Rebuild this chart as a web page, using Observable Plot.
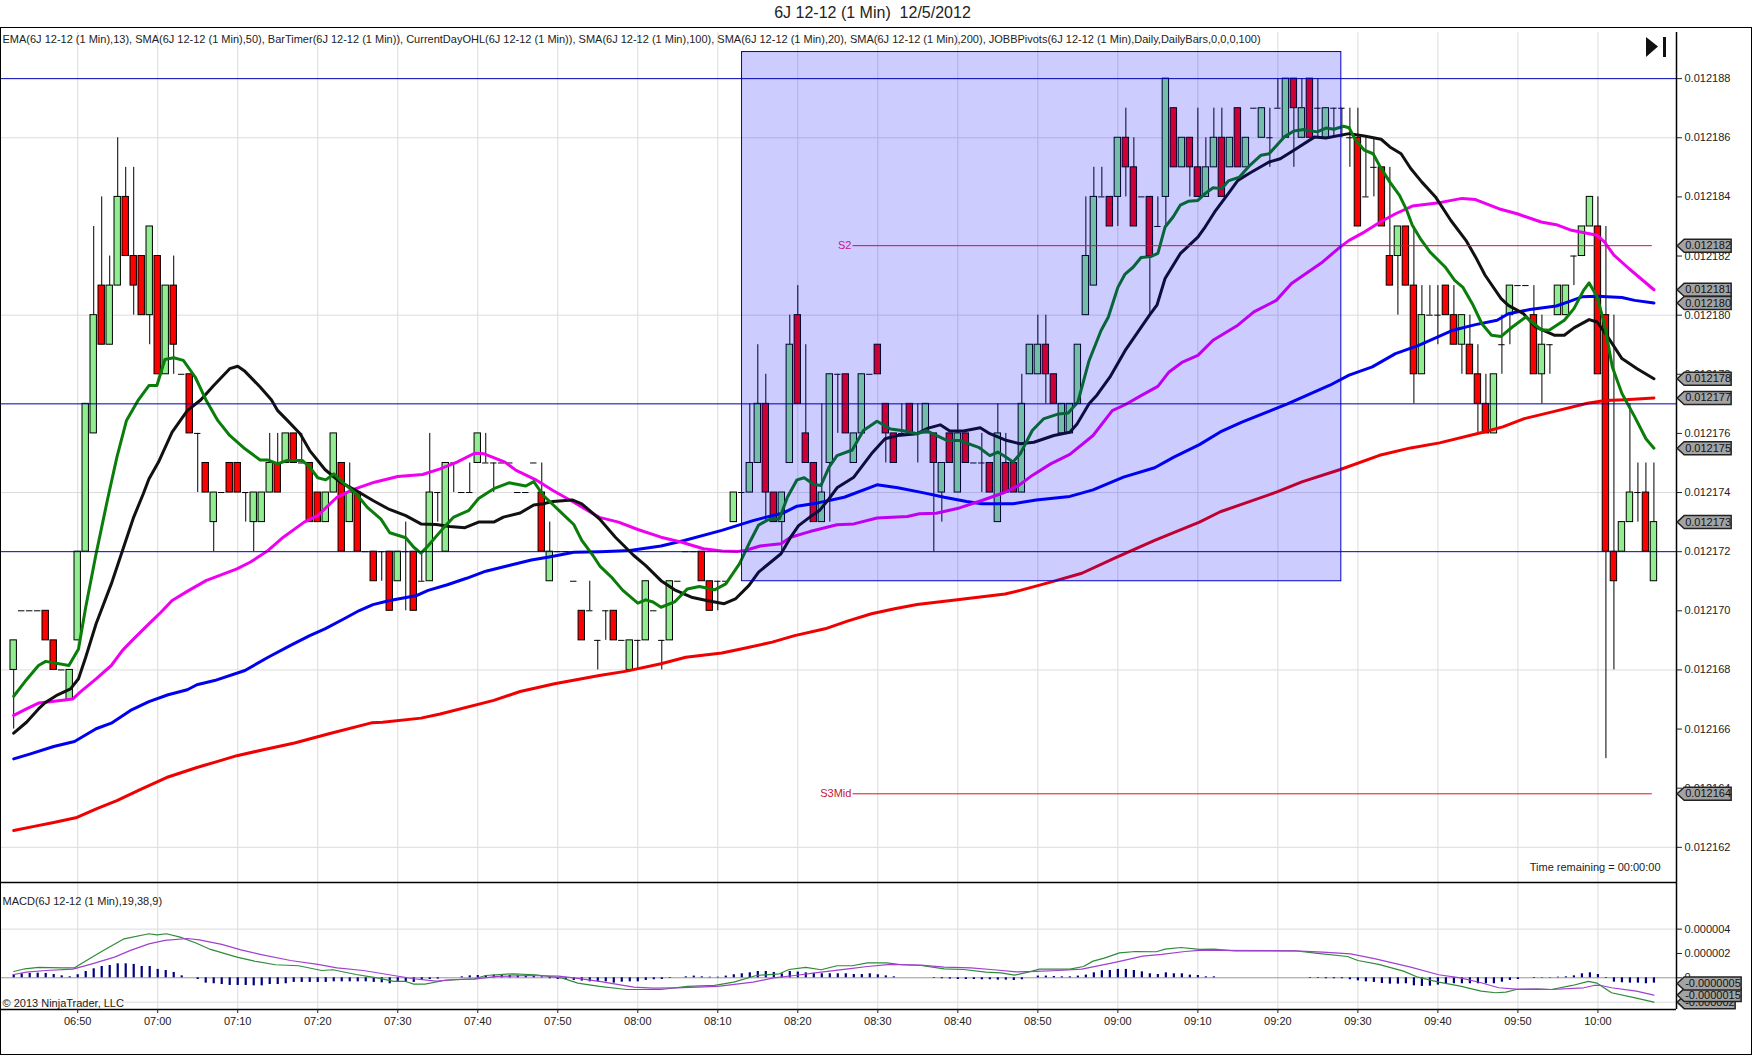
<!DOCTYPE html>
<html><head><meta charset="utf-8">
<script src="https://cdn.jsdelivr.net/npm/d3@7"></script>
<script src="https://cdn.jsdelivr.net/npm/@observablehq/plot@0.6"></script>
<style>
html,body{margin:0;padding:0;background:#fff;overflow:hidden}
#wrap{position:relative;width:1752px;height:1055px;font-family:"Liberation Sans",Arial,sans-serif}
#title{position:absolute;left:0;width:1745px;top:4px;text-align:center;font-size:16px;color:#222;white-space:pre}
#frame{position:absolute;left:0;top:27px;width:1749.5px;height:1026px;border:1.5px solid #000;pointer-events:none}
#p1,#p2{position:absolute;left:0}
#p1{top:27px}#p2{top:882px}
svg{display:block;overflow:visible}
</style></head><body>
<div id="wrap"><div id="title">6J 12-12 (1 Min)  12/5/2012</div><div id="frame"></div><div id="p1"></div><div id="p2"></div>
<svg style="position:absolute;left:1646px;top:36px" width="22" height="24"><path d="M0 1L12 10.5L0 21Z" fill="#111"/><rect x="17" y="1" width="3" height="20" fill="#111"/></svg>
</div>
<script>
// Prices are in units of 0.000001 above 0.012100 (86 = 0.012186). Bar 0 = 06:42, one bar per minute.
const open=[68,70,70,70,70,69,68,67,69,72,76,81,79,81,84,82,82,80,82,78,81,78,78,76,75,73,74,75,75,74,73,73,74,75,75,76,75,75,74,73,74,75,73,74,72,72,72,72,71,72,72,71,71,74,72,75,74,74,75,75,75,75,75,74,74,75,74,71,72,72,71,70,70,69,70,70,69,68,69,69,70,69,69,71,72,72,72,71,71,71,73,74,74,75,77,74,73,75,80,76,75,73,75,78,78,75,76,78,79,77,76,76,77,76,76,76,74,76,74,76,75,75,75,73,75,75,74,78,78,79,78,76,76,77,80,81,84,84,84,86,85,84,84,83,84,87,85,86,85,84,85,86,85,87,85,87,86,86,87,86,88,86,88,87,86,87,87,86,86,84,85,85,82,82,83,81,78,80,80,81,80,79,79,78,77,76,79,80,81,81,80,78,79,80,80,82,82,83,83,80,72,72,73,74,74,71];
const high=[69,70,70,70,70,69,68,68,72,77,83,84,82,86,85,85,82,83,82,81,82,78,78,76,75,74,74,75,75,74,74,74,76,76,76,76,76,75,74,74,76,75,75,74,72,72,72,72,72,73,72,72,76,74,75,75,74,75,76,76,75,75,75,74,74,75,75,73,72,72,71,70,71,69,70,70,69,69,69,71,70,69,71,71,72,72,72,71,71,71,74,74,77,79,78,74,74,80,81,79,75,77,78,78,78,76,78,78,79,77,76,77,77,77,77,76,75,76,77,76,75,76,75,77,76,75,78,79,80,80,78,77,77,79,84,85,85,84,86,87,86,84,84,84,88,87,86,86,87,86,87,87,86,87,86,86,87,87,88,88,88,88,87,88,87,87,87,87,87,86,86,85,85,83,83,83,81,81,81,80,81,80,80,79,78,77,80,79,81,81,81,80,79,79,81,81,83,84,84,83,80,73,77,75,75,75,73];
const low=[66,70,70,70,69,68,68,67,69,72,76,79,79,81,82,80,80,79,78,78,78,78,76,74,74,72,74,74,74,73,72,73,74,74,75,75,75,73,73,73,74,72,73,72,72,71,71,70,71,70,70,71,71,73,72,74,74,74,75,75,74,75,75,74,74,75,72,71,72,72,71,69,70,68,69,69,69,68,68,69,70,68,69,71,72,72,71,70,70,71,73,74,74,75,73,73,72,75,77,75,73,73,73,76,76,75,76,78,78,75,75,76,76,75,76,72,73,75,74,75,75,74,74,73,74,74,74,78,78,77,77,76,76,77,80,81,84,83,83,84,83,84,80,83,83,85,85,84,84,84,85,84,85,85,85,86,86,85,87,86,85,86,86,86,86,86,86,85,83,84,84,83,81,80,81,77,78,80,79,80,79,78,78,76,76,76,78,80,81,81,78,77,78,79,80,82,82,83,78,65,68,72,73,73,72,71];
const close=[69,70,70,70,69,68,68,68,72,77,80,79,81,84,82,81,80,83,78,81,79,78,76,76,74,74,74,74,74,74,74,74,75,74,76,75,75,73,73,74,76,72,74,72,72,71,72,70,72,72,70,71,74,74,75,75,74,74,76,75,75,75,75,74,74,75,72,72,72,72,71,69,70,69,70,69,69,69,69,71,70,69,71,71,72,72,71,70,71,71,74,74,75,77,74,73,74,79,77,75,73,74,78,78,76,76,78,78,78,76,75,76,76,76,77,75,75,75,76,75,75,75,74,76,74,74,77,79,79,78,77,77,77,79,82,84,84,83,86,85,83,84,82,83,88,85,86,85,84,85,86,84,86,85,86,87,87,86,87,88,87,87,86,87,87,87,87,86,83,84,85,83,81,83,81,78,80,80,80,80,79,80,78,77,76,78,79,81,81,81,78,79,79,81,81,82,83,84,78,72,71,73,74,74,72,73];

// Moving averages as [bar, price]
const ema13=[[0,67.11],[1.6,67.67],[3.1,68.15],[4,68.29],[6.9,68.15],[8.1,68.71],[9,70.12],[10.3,71.93],[11.7,73.73],[12.9,75.2],[14.1,76.44],[15.5,77.1],[16.9,77.62],[17.9,77.62],[18.9,78.5],[20,78.56],[21.2,78.47],[22.7,77.9],[24,77.15],[25.5,76.44],[27,75.93],[28.9,75.48],[30.8,75.1],[31.8,75.1],[33,74.97],[34.1,75.08],[36.1,75.08],[37,74.86],[38,74.5],[39,74.43],[40,74.63],[41.3,74.3],[42.8,73.96],[44.2,73.5],[45.9,73.1],[47,72.64],[49,72.47],[50,72.15],[50.9,71.95],[51.8,72.2],[53.8,72.83],[55,73.17],[56.9,73.4],[58.1,73.8],[60,74.13],[61.9,74.33],[64,74.22],[65,74.37],[66.2,73.9],[68.6,73.28],[70,72.92],[71,72.38],[72.4,71.87],[73.3,71.5],[74.7,71.14],[76.1,70.7],[78,70.26],[79,70.37],[79.9,70.3],[80.9,70.12],[82.6,70.3],[84.2,70.74],[85.7,70.82],[87.6,70.71],[89,70.91],[90.7,71.59],[92.1,72.38],[93.1,72.9],[94.3,73.08],[95.7,73.11],[96.7,73.84],[97.9,74.43],[98.8,74.5],[100,74.27],[100.9,74.24],[101.9,74.86],[102.9,75.25],[104.8,75.44],[106.2,76.1],[107.9,76.41],[109.6,76.15],[111,76.1],[112.9,75.99],[114.1,76.1],[115.3,75.93],[116.7,75.76],[118.2,75.76],[120.6,75.53],[122,75.25],[123,75.37],[123.9,75.22],[124.9,75.03],[125.8,75.31],[127.3,76.1],[128.7,76.49],[130.6,76.66],[131.8,76.69],[133,77.06],[134.4,78.46],[135.9,79.48],[136.8,79.93],[138,80.94],[138.9,81.39],[139.9,81.62],[140.9,81.95],[142.1,81.98],[143,82.09],[143.9,82.98],[144.9,83.32],[145.8,83.72],[146.8,83.85],[148,83.88],[148.9,84.11],[149.9,84.31],[151,84.28],[151.8,84.54],[153.2,84.67],[154.5,85.07],[155.9,85.41],[156.9,85.46],[158.8,86.03],[160,86.23],[161.2,86.28],[162.9,86.2],[164,86.33],[165,86.29],[166.2,86.39],[166.9,86.34],[167.6,85.97],[168.8,85.58],[169.9,85.46],[170.8,85.01],[172,84.5],[173.2,84.05],[174.1,83.55],[174.8,83.04],[175.8,82.59],[177,82.14],[178.9,81.63],[180.1,81.18],[181.1,80.95],[182.3,80.39],[183.5,79.71],[184.7,79.32],[185.9,79.28],[187.3,79.6],[189,79.94],[190,79.71],[190.9,79.51],[191.9,79.49],[193.8,79.83],[195,80.22],[196.2,80.84],[196.9,81.09],[197.9,80.62],[198.8,79.71],[199.8,78.25],[201,77.35],[202.6,76.56],[204,75.82],[205,75.5]];
const sma20=[[0,65.86],[1.6,66.23],[3.1,66.68],[4,66.91],[5.5,67.16],[7.1,67.36],[8.1,67.7],[9,68.43],[10.3,69.56],[12.2,70.91],[13.6,72.04],[15,73.17],[16.2,73.96],[16.9,74.46],[18.1,75.03],[19.8,76.04],[21.7,76.77],[23.4,77.14],[25,77.62],[27,78.19],[28,78.27],[28.9,78.1],[30.8,77.57],[32.2,77.14],[33,76.77],[34.2,76.44],[35.8,75.99],[37,75.42],[38.9,74.78],[40.8,74.35],[42.8,74.07],[44.9,73.73],[46.8,73.45],[49,73.22],[50.9,72.94],[52.8,72.92],[54.5,72.85],[56.4,72.81],[58.1,73],[60,73],[61.2,73.17],[63.3,73.31],[65,73.58],[66.2,73.62],[67.4,73.7],[69.8,73.75],[71,73.62],[73.2,73.11],[75.2,72.49],[77.5,71.87],[79,71.53],[80.9,71.02],[82.6,70.71],[84.7,70.46],[86.6,70.35],[88.8,70.24],[90.2,70.4],[91.9,70.86],[93.1,71.31],[95.9,71.93],[97.1,72.49],[98.1,72.88],[99.5,73.17],[100.7,73.39],[101.9,73.79],[102.9,74.16],[105,74.52],[107.2,75.31],[108.9,75.82],[110.5,75.93],[112.9,75.99],[114.3,76.18],[115.8,76.29],[117,76.08],[118.7,76.08],[120.8,76.19],[122,75.99],[123.9,75.78],[125.8,75.65],[127.5,75.7],[130,75.93],[132,76.04],[132.9,76.32],[134.4,77],[135.4,77.3],[137,77.9],[138.9,78.8],[140.9,79.59],[142,80.02],[142.9,80.35],[143.9,81.24],[145.8,82.08],[148,82.64],[148.9,82.98],[150.1,83.49],[151.8,84.11],[153,84.56],[154.5,84.81],[156.9,85.18],[158.3,85.29],[160,85.58],[162.6,86.03],[164,85.99],[166.9,86.14],[168.8,86.06],[170.9,85.95],[172,85.69],[173.4,85.46],[174.6,84.96],[176,84.5],[177.7,84],[179.6,83.21],[181.5,82.53],[182.7,81.97],[183.9,81.35],[185.9,80.56],[186.8,80.33],[188.7,80.05],[190.2,79.6],[192.6,79.32],[193.8,79.32],[195,79.57],[196.9,79.85],[197.9,79.77],[199.1,79.32],[201,78.53],[202.9,78.19],[205,77.85]];
const sma50=[[0,66.46],[1.6,66.68],[3.1,66.88],[4,66.91],[7.4,67.02],[8.3,67.25],[10.3,67.7],[12.2,68.15],[13.6,68.66],[15,69.05],[16.9,69.56],[18.4,69.95],[19.8,70.35],[21.9,70.69],[24.1,71.03],[27.9,71.42],[29.6,71.65],[31.8,72.04],[33.7,72.49],[36.3,73],[38,73.22],[40.4,73.84],[42.3,74.09],[45.1,74.35],[48,74.54],[51.1,74.61],[53.3,74.8],[55.4,75.03],[57.6,75.33],[58.8,75.31],[61.4,75.03],[62.8,74.75],[65.2,74.44],[67.4,74.07],[70,73.67],[73.2,73.16],[75.6,73],[78,72.75],[80.9,72.49],[83.5,72.32],[86.2,72.1],[88.5,72.02],[90.5,72.01],[91.4,72.04],[93.3,72.19],[95.9,72.27],[97.1,72.49],[99.5,72.68],[102.9,72.91],[105,72.94],[107.9,73.14],[111.7,73.19],[113.2,73.28],[115.3,73.3],[118.2,73.48],[121,73.73],[123.9,74.01],[125.6,74.24],[127.3,74.58],[129.6,74.97],[132,75.29],[134.9,75.93],[137.3,76.77],[138.9,76.97],[140.9,77.28],[143,77.59],[144.4,78.08],[146,78.4],[148,78.64],[149.9,79.15],[151.6,79.43],[153,79.66],[155,80.11],[157.8,80.5],[159.7,81.07],[161.2,81.35],[163.6,81.8],[165.8,82.31],[166.9,82.53],[168.8,82.81],[170.8,83.15],[172.7,83.43],[174.8,83.69],[177.9,83.79],[181,83.95],[182.7,83.91],[185.6,83.6],[187.9,83.43],[190.9,83.15],[192.8,83.06],[194.7,82.87],[197.9,82.7],[198.8,82.48],[200,82.03],[201.9,81.57],[205,80.86]];
const sma100=[[0,64.99],[2.1,65.16],[5,65.41],[7.6,65.58],[10.3,66.01],[12.2,66.2],[14.6,66.63],[16.9,66.93],[19.3,67.16],[21.7,67.33],[22.9,67.5],[25.1,67.64],[28.9,67.98],[31.8,68.43],[34.6,68.83],[37,69.16],[38.9,69.39],[41.3,69.73],[43.2,70.01],[44.9,70.21],[47,70.35],[50.4,70.52],[51.8,70.69],[54.2,70.88],[56.6,71.1],[59,71.34],[61.9,71.53],[64.7,71.72],[67.1,71.83],[70,71.98],[73.3,72],[77,72.04],[80.9,72.19],[83.8,72.38],[88.5,72.72],[92.4,73.05],[94.8,73.22],[96.2,73.31],[97.9,73.54],[100.5,73.65],[103.8,73.84],[107.9,74.26],[110.5,74.16],[113.9,73.98],[116.3,73.84],[119.1,73.7],[121,73.62],[124.9,73.62],[127.8,73.75],[132,73.87],[134.9,74.09],[138.7,74.52],[142.6,74.84],[145,75.2],[148.2,75.62],[150.8,76.05],[153.5,76.38],[159.2,77],[164.5,77.63],[166.9,77.97],[169.8,78.25],[172.7,78.7],[175.6,78.98],[179.9,79.49],[182.7,79.68],[185.4,79.83],[186.8,80.05],[189.5,80.19],[192.8,80.31],[194.3,80.45],[196,80.62],[197.9,80.64],[201,80.6],[202.6,80.5],[205,80.41]];
const sma200=[[0,62.57],[2.4,62.7],[5,62.84],[7.9,63.01],[10.4,63.31],[12.9,63.58],[15.8,63.95],[19.1,64.36],[22.9,64.7],[25.4,64.9],[27.9,65.1],[31.2,65.3],[35.1,65.53],[39.4,65.84],[44.7,66.21],[46.1,66.23],[50.9,66.37],[53.3,66.51],[60,66.97],[63.3,67.27],[67.6,67.53],[73.2,67.81],[76.6,67.96],[80.9,68.21],[84,68.43],[88.5,68.57],[90.9,68.71],[94.8,68.94],[97.6,69.16],[101.4,69.39],[104.2,69.65],[107.2,69.9],[110.1,70.07],[112.9,70.21],[118.2,70.38],[123.9,70.57],[125.8,70.69],[129.6,70.97],[133.5,71.27],[137.8,71.81],[142.6,72.38],[148.2,73],[150.8,73.35],[157.9,74.02],[161,74.36],[165.8,74.78],[170.7,75.26],[174.6,75.51],[178.2,75.68],[183.5,76.03],[186.1,76.22],[188.8,76.5],[192.3,76.73],[196.7,77.02],[198.9,77.11],[201.4,77.14],[205,77.2]];

// MACD lines in units of 0.000001 as [bar, value]; histogram in units of 0.0000001, one per bar
const macdLine=[[0,.52],[1.4,.74],[3.1,.85],[6,.82],[7.6,.82],[9.1,1.42],[11.2,2.25],[13.8,3.2],[16.9,3.62],[17.9,3.53],[19.1,3.62],[20.8,3.34],[22.7,2.88],[24.6,2.33],[27.9,1.7],[30.1,1.37],[32.7,1.07],[35.6,.99],[38.5,.6],[39.9,.66],[42.8,.27],[45.6,-.03],[47.5,-.3],[49,-.3],[50,-.52],[51.4,-.52],[53.8,-.22],[57.6,-.08],[59,.19],[62.4,.33],[65.2,.25],[68.6,-.03],[70.5,-.44],[73.2,-.71],[76.6,-.96],[80.9,-.96],[84.2,-.71],[87.6,-.63],[90,-.36],[92.8,.19],[95.7,.33],[96.9,.68],[99,.85],[100.9,.66],[102.9,.99],[104.8,.99],[106.7,1.23],[109.1,1.23],[111,1.07],[113.4,1.01],[116.3,.74],[118.7,.68],[121.5,.47],[123.4,.41],[125.1,.22],[126.8,.47],[128.2,.71],[132,.71],[133.7,.93],[134.9,1.37],[136.3,1.62],[138.2,2.05],[140.2,2.16],[142.8,2.14],[143.9,2.36],[145.9,2.49],[148.2,2.33],[150,2.36],[152.6,2.22],[160.1,2.22],[162.7,2.03],[166.7,1.75],[168,1.42],[170.6,1.1],[173.7,.55],[175.5,.05],[178.1,-.36],[180.8,-.68],[183.4,-1.1],[185.2,-1.23],[186.5,-1.18],[187.8,-.96],[190.4,-.93],[192.2,-.96],[194.8,-.63],[196.8,-.3],[197.9,-.44],[199.7,-1.23],[202.8,-1.67],[205,-2]];
const signalLine=[[0,.27],[1.6,.47],[4,.6],[7.4,.71],[9.8,1.15],[12.6,1.7],[14.6,2.25],[16.9,2.79],[18.9,3.07],[21.7,3.23],[23.2,3.12],[26,2.74],[28.4,2.3],[30.8,1.92],[34.6,1.42],[38,1.1],[40.4,.82],[43.7,.6],[47.5,.19],[50,-.08],[52.8,-.27],[55.2,-.14],[57.6,-.11],[60.4,.11],[64.3,.19],[68.1,.14],[70.5,-.05],[73.2,-.3],[77.5,-.77],[79.9,-.85],[82.8,-.82],[88,-.71],[92.4,-.36],[95,0],[97.6,.19],[100.9,.47],[104.3,.74],[106.7,.93],[109.6,1.1],[113.4,1.04],[116.3,.88],[119.6,.82],[122.5,.66],[125.3,.49],[127.8,.52],[130.6,.6],[133.5,.71],[137.8,1.29],[141.1,1.78],[143.5,1.92],[146.4,2.16],[148.2,2.25],[150,2.25],[160.1,2.22],[163.6,2.11],[167.1,1.97],[170.2,1.56],[174.6,.88],[178.1,.25],[180.8,0],[183.4,-.41],[185.6,-.82],[187.8,-.93],[190.4,-.93],[192.2,-.96],[196.2,-.82],[197.5,-.63],[198.4,-.63],[199.7,-.82],[202.8,-1.1],[205,-1.42]];
const macdHist=[2.5,3.3,3.6,3.8,3.6,2.7,1.6,.8,2.5,5.2,7.4,9.3,10.1,11.5,11.5,11,9.3,9.3,6.9,6,4.4,1.6,0,-1.4,-4.4,-4.9,-5.5,-6.3,-6.3,-6.3,-6.6,-6.6,-5.5,-5.5,-4.9,-3.8,-3.8,-3.8,-3.8,-3.8,-3.3,-3.3,-3.3,-3.3,-3.3,-3.8,-4.1,-4.9,-3.8,-3.8,-3.8,-2.2,-1.4,-1.1,0,0,.8,1.6,1.9,1.9,2.2,2.2,1.9,1.6,1.4,1.4,.8,-.8,-1.4,-1.6,-2.2,-2.7,-3.3,-3.3,-3.3,-4.4,-3.6,-3.3,-3.3,-2.2,-1.6,-1.4,-.5,0,.8,1.4,.8,.5,.5,1.4,2.5,3.3,4.1,5.2,5.2,4.4,3.3,5.2,4.7,4.1,3.6,3.3,3.3,3.3,3.3,2.7,2.7,3.3,2.5,1.6,.8,0,0,0,0,-.5,-.8,-1.1,-1.4,-1.4,-1.4,-1.6,-1.6,-1.9,-1.9,-2.2,-1.6,0,1.4,1.4,1.1,.8,.8,1.4,2.2,4.1,5.8,6,6.9,6.9,6,4.9,3.3,2.7,4.1,3.3,3.3,2.2,1.9,.8,.8,0,0,0,0,0,0,0,0,0,0,0,-.5,-.5,-.8,-.8,-.8,-1.6,-2.5,-3.3,-3.8,-4.7,-5.2,-5.2,-4.9,-6.6,-7.1,-6.9,-6,-5.2,-4.9,-4.9,-4.9,-4.9,-4.9,-4.9,-3.6,-2.2,-1.4,0,-.5,-.3,-.3,.5,.8,1.6,3.3,4.1,2.7,-.5,-3.6,-4.1,-4.4,-4.4,-4.9,-4.4];

// Levels and annotations
const dayLevels=[88,77,72];
const s2Level=82.35, s3MidLevel=63.81;
const pivotStart=506.9, pivotEnd=606.8;   // minutes of the day
const zone={start:493.03,end:567.93,top:88.9,bottom:71};
const priceTags=[["0.012182",82.35],["0.012181",80.86],["0.012180",80.41],["0.012178",77.85],["0.012177",77.2],["0.012175",75.5],["0.012173",73],["0.012164",63.81]];
const macdTags=[["-0.000002",-2,58],["-0.0000015",-1.42,64],["-0.0000005",-.47,64]];
const priceTicks=[88,86,84,82,80,78,76,74,72,70,68,66,64,62];
const priceGrid=[86,80,74,68,62];
const macdTicks=[4,2,0,-2];
const macdGrid=[4,-2];
const timeLabels=["06:50","07:00","07:10","07:20","07:30","07:40","07:50","08:00","08:10","08:20","08:30","08:40","08:50","09:00","09:10","09:20","09:30","09:40","09:50","10:00"];
const legendText="EMA(6J 12-12 (1 Min),13), SMA(6J 12-12 (1 Min),50), BarTimer(6J 12-12 (1 Min)), CurrentDayOHL(6J 12-12 (1 Min)), SMA(6J 12-12 (1 Min),100), SMA(6J 12-12 (1 Min),20), SMA(6J 12-12 (1 Min),200), JOBBPivots(6J 12-12 (1 Min),Daily,DailyBars,0,0,0,100)";

const firstBar=402;
const timeTicks=timeLabels.map(s=>{const[h,m]=s.split(":").map(Number);return h*60+m});
const bars=open.map((o,i)=>({t:firstBar+i,o,h:high[i],l:low[i],c:close[i]}));
const xDomain=[400.476,609.82];
const hw=.4;
const font="'Liberation Sans',Arial,sans-serif";
const ink="#222";
const lineOf=(arr,color,w=3)=>Plot.line(arr,{x:d=>firstBar+d[0],y:d=>d[1],stroke:color,strokeWidth:w,strokeLinejoin:"round"});
const tag=(w)=>({draw(c){c.moveTo(0,0);c.lineTo(7,-6.5);c.lineTo(w,-6.5);c.lineTo(w,6.5);c.lineTo(7,6.5);c.closePath()}});

const price=Plot.plot({
  width:1752,height:855,marginLeft:1,marginRight:76,marginTop:0,marginBottom:0,
  x:{domain:xDomain,axis:null},y:{domain:[60.81,89.73],axis:null},
  style:{fontFamily:font,fontSize:"11px",background:"transparent",color:ink},
  marks:[
    Plot.ruleX(timeTicks,{y1:89.56,y2:60.81,stroke:"#dcdcdc"}),
    Plot.ruleY(priceGrid,{stroke:"#dcdcdc"}),
    Plot.ruleX(bars,{x:"t",y1:"l",y2:"h",stroke:"#000"}),
    Plot.rect(bars.filter(b=>b.c>b.o),{x1:b=>b.t-hw,x2:b=>b.t+hw,y1:"o",y2:"c",fill:"#90ee90",stroke:"#000"}),
    Plot.rect(bars.filter(b=>b.c<b.o),{x1:b=>b.t-hw,x2:b=>b.t+hw,y1:"o",y2:"c",fill:"#ff0000",stroke:"#000"}),
    Plot.ruleY(bars.filter(b=>b.c===b.o),{x1:b=>b.t-hw,x2:b=>b.t+hw,y:"o",stroke:"#000"}),
    lineOf(sma200,"#f00000"),lineOf(sma100,"#0000f0"),lineOf(sma50,"#f000f0"),lineOf(sma20,"#111"),lineOf(ema13,"#0a7d0a"),
    Plot.rect([zone],{x1:"start",x2:"end",y1:"bottom",y2:"top",fill:"#0000ff",fillOpacity:.2,stroke:"#0000c8"}),
    Plot.ruleY(dayLevels,{stroke:"#0000b0"}),
    Plot.ruleY([s2Level],{x1:pivotStart,x2:pivotEnd,stroke:"#d0123c"}),
    Plot.ruleY([s3MidLevel],{x1:pivotStart,x2:pivotEnd,stroke:"#e01414"}),
    Plot.text(["S2"],{x:pivotStart-.2,y:s2Level,textAnchor:"end",fill:"#c8148c"}),
    Plot.text(["S3Mid"],{x:pivotStart-.2,y:s3MidLevel,textAnchor:"end",fill:"#c81432"}),
    Plot.ruleX([xDomain[1]],{y1:89.56,y2:60.81,stroke:"#000",strokeWidth:1.5}),
    Plot.axisY(priceTicks,{anchor:"right",tickSize:5,tickPadding:3,tickFormat:d=>(0.0121+d*1e-6).toFixed(6),fontSize:11}),
    Plot.dot(priceTags,{x:()=>609.9,y:d=>d[1],symbol:tag(54),fill:"#a3a3a3",stroke:"#222"}),
    Plot.text(priceTags,{x:()=>610.9,y:d=>d[1],text:d=>d[0],textAnchor:"start",fill:"#111"}),
    Plot.text([legendText],{frameAnchor:"top-left",dx:1,dy:12,lineAnchor:"middle",textAnchor:"start",fill:ink}),
    Plot.text(["Time remaining = 00:00:00"],{frameAnchor:"bottom-right",dx:-16,dy:-15,lineAnchor:"middle",textAnchor:"end",fill:ink})
  ]
});
document.getElementById("p1").append(price);

const macd=Plot.plot({
  width:1752,height:173,marginLeft:1,marginRight:76,marginTop:0,marginBottom:46,
  x:{domain:xDomain,axis:null},y:{domain:[-2.605,7.83],axis:null},
  style:{fontFamily:font,fontSize:"11px",background:"transparent",color:ink},
  marks:[
    Plot.ruleX(timeTicks,{stroke:"#dcdcdc"}),
    Plot.ruleY(macdGrid,{stroke:"#dcdcdc"}),
    Plot.ruleY([0],{stroke:"#999"}),
    Plot.ruleX(macdHist,{x:(d,i)=>firstBar+i,y1:()=>0,y2:d=>d/10,stroke:"#000080",strokeWidth:2.2}),
    lineOf(macdLine,"#2f8b3a",1.2),lineOf(signalLine,"#a040d0",1.2),
    Plot.ruleY([7.83],{stroke:"#000",strokeWidth:1.5}),
    Plot.ruleY([-2.605],{stroke:"#000",strokeWidth:1.5}),
    Plot.ruleX([xDomain[1]],{stroke:"#000",strokeWidth:1.5}),
    Plot.axisY(macdTicks,{anchor:"right",tickSize:5,tickPadding:3,tickFormat:d=>d===0?"0":(d*1e-6).toFixed(6),fontSize:11}),
    Plot.axisX(timeTicks,{anchor:"bottom",tickSize:4,tickPadding:4,tickFormat:(d,i)=>timeLabels[i],fontSize:11}),
    ...macdTags.flatMap(d=>[
      Plot.dot([d],{x:()=>609.9,y:e=>e[1],symbol:tag(d[2]),fill:"#a3a3a3",stroke:"#222"}),
      Plot.text([d],{x:()=>610.9,y:e=>e[1],text:e=>e[0],textAnchor:"start",fill:"#111"})
    ]),
    Plot.text(["MACD(6J 12-12 (1 Min),19,38,9)"],{frameAnchor:"top-left",dx:1,dy:18.5,lineAnchor:"middle",textAnchor:"start",fill:ink}),
    Plot.text(["© 2013 NinjaTrader, LLC"],{frameAnchor:"top-left",dx:1,dy:121,lineAnchor:"middle",textAnchor:"start",fill:ink})
  ]
});
document.getElementById("p2").append(macd);
</script>
</body></html>
